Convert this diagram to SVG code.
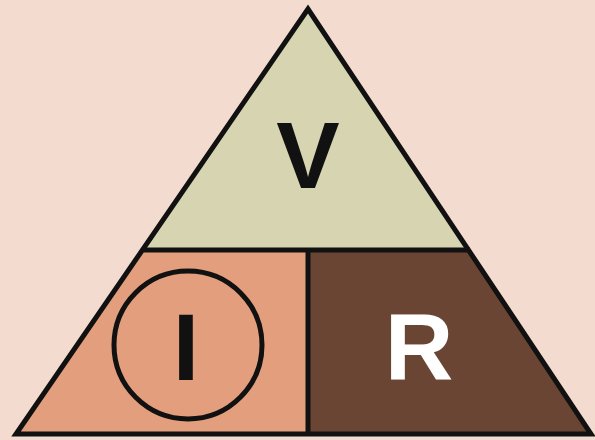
<svg xmlns="http://www.w3.org/2000/svg" width="595" height="440" viewBox="0 0 595 440">
<style>
.ln{stroke:#111;stroke-width:5;stroke-linejoin:miter;fill:none}
.lbl{font-family:"Liberation Sans",Arial,sans-serif;font-weight:bold;font-size:95px;text-anchor:middle}
</style>
<rect width="595" height="440" fill="#f3dccf"/>
<g id="top-V">
<polygon points="308,9 144,250 470,250" fill="#d7d5b1"/>
<text class="lbl" x="308" y="188" fill="#111">V</text>
</g>
<g id="left-I">
<polygon points="144,250 308,250 308,434 16,434" fill="#e39e7d"/>
<circle cx="188" cy="345" r="74" class="ln" stroke-width="4"/>
<text class="lbl" x="186" y="380" fill="#111">I</text>
</g>
<g id="right-R">
<polygon points="308,250 470,250 591,434 308,434" fill="#6a4534"/>
<text class="lbl" x="419" y="380" fill="#fff">R</text>
</g>
<g id="connectors">
<polygon points="308,9 16,434 591,434" class="ln"/>
<line x1="144" y1="250" x2="470" y2="250" class="ln"/>
<line x1="308" y1="250" x2="308" y2="434" class="ln" stroke-width="6"/>
</g>
</svg>
